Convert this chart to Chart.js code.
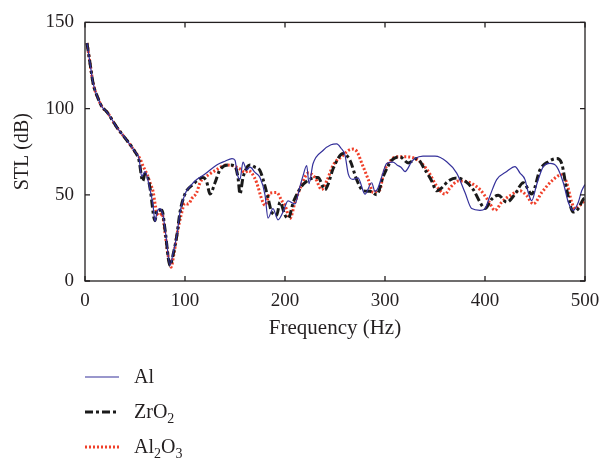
<!DOCTYPE html>
<html>
<head>
<meta charset="utf-8">
<script src="https://cdn.jsdelivr.net/npm/chart.js@4/dist/chart.umd.min.js"></script>
<style>
  html, body { margin: 0; padding: 0; background: #fff; }
  #wrap { width: 613px; height: 462px; }
</style>
</head>
<body>
<div id="wrap"><canvas id="stl"></canvas></div>
<script>
// STL curves (frequency in Hz, STL in dB)
const alFreq = [2, 5, 8, 13, 17, 22, 32, 42, 50, 54, 56.7, 60, 65, 68, 70, 72, 75, 78, 81, 85, 88, 92, 95, 100, 106, 112, 120, 131.7, 140, 147, 150, 152.3, 155, 158, 161.7, 165, 170, 175, 180, 183, 188, 193, 198, 203, 210, 215, 218, 221.7, 224, 228, 238, 246, 251.7, 256, 260, 263.3, 268, 273, 280, 286.7, 290, 293, 297, 301.7, 308, 312, 316, 320, 326.7, 330, 338, 350, 361.7, 371.7, 380, 386.7, 395, 400, 405, 411.7, 421.7, 430, 435, 440, 443.3, 446.7, 451.7, 458.3, 465, 471.7, 478.3, 483.3, 488.3, 493.3, 496.7, 500];
const alSTL = [138, 126.5, 115, 106, 101, 98, 89, 81.5, 75, 71, 60.7, 63.5, 53, 44, 34.5, 40, 42, 38, 26, 9, 16, 27, 40, 50.5, 55.5, 59, 62, 67.3, 69.5, 71, 70, 62, 59, 69, 64.5, 66, 63, 60, 50, 36.5, 42, 35.5, 40, 46.5, 44.7, 55, 61, 67, 56.5, 68, 75.7, 79, 79.5, 77, 73, 62, 59, 59.8, 50.4, 57, 52, 54, 61, 68.2, 69, 67.3, 66, 63.5, 69.2, 71, 72.4, 72.4, 69.2, 62.6, 51.3, 42, 41, 42, 49.5, 58.8, 63.5, 66.4, 62.6, 58.8, 51.3, 46.6, 56, 66.4, 68.2, 66.4, 57, 45.7, 41, 45.7, 52.3, 56];

const zrFreq = [2, 5, 8, 13, 17, 22, 32, 42, 50, 54, 57.7, 60, 62, 65, 70, 72, 77, 80, 85, 88, 92, 95, 100, 108, 118, 121.7, 125, 130, 135, 145, 150, 153, 155, 158, 165, 170, 175, 180, 183.3, 186.7, 191.7, 195, 200, 203.3, 208.3, 216.7, 222, 228.3, 233, 240, 243, 248.3, 258.3, 265, 271.7, 278.3, 285, 291.7, 298.3, 306.7, 315, 323.3, 331.7, 340, 346.7, 351.7, 356.7, 363.3, 371.7, 380, 388.3, 395, 400, 406.7, 413.3, 421.7, 430, 438.3, 446.7, 455, 463.3, 471.7, 476.7, 481.7, 488.3, 493.3, 498.3, 500];
const zrSTL = [138, 126.5, 115, 106, 101, 98, 89, 81.5, 75, 70, 58, 62, 61.5, 54, 35, 41, 41, 30, 9, 15, 27, 40, 50.5, 56, 60, 57.5, 50.4, 57, 64.5, 67.3, 66.5, 60, 50.4, 60, 67.3, 66, 64, 55, 47.5, 40, 38.2, 45.7, 38.2, 36.3, 45.7, 55, 58, 59.8, 60, 53, 56, 65.4, 73.9, 70, 58.8, 52.3, 52, 50, 60.7, 70, 72, 68.5, 71, 64.5, 58, 52.3, 54, 58, 59.8, 58, 53, 45.7, 42, 47.5, 49.8, 45.7, 50.4, 57, 50.4, 64.5, 69.2, 71, 68.2, 53, 40, 42, 47.5, 48];

const aoFreq = [2, 5, 8, 13, 17, 22, 32, 42, 50, 55, 58.3, 62, 65, 68.3, 70, 71.7, 74, 77, 80, 83, 86, 89, 92, 96, 100, 103.3, 107, 111.7, 115, 120, 130, 141.7, 150, 155, 160, 163, 166.7, 171.7, 176.7, 180, 185, 191.7, 196.7, 200, 205, 210, 216.7, 223.3, 230, 236.7, 241.7, 248.3, 258.3, 263.3, 268.3, 272, 277, 283.3, 288.3, 291.7, 295, 298.3, 303.3, 311.7, 321.7, 333.3, 343.3, 351.7, 360, 365, 373.3, 385, 395, 403.3, 410, 416.7, 425, 435, 441.7, 448.3, 456.7, 466.7, 476.7, 481.7, 486.7, 490, 495, 500];
const aoSTL = [138, 126.5, 115, 106, 101, 98, 89, 81.5, 75, 71, 66.4, 62, 57, 51.3, 45, 40, 38, 39, 28, 15, 8, 16, 27, 38, 45, 44.7, 48, 51.3, 57, 60, 64, 67.3, 66.5, 65, 63, 64, 62.6, 57, 47.5, 43.9, 51, 51.3, 46.6, 43.9, 36.3, 45.7, 56, 62.6, 60, 53, 58, 67.3, 73, 75.7, 76.5, 75, 68, 58.8, 51.3, 52, 53, 62, 68.2, 72, 72, 70, 63.5, 55, 50.4, 54, 58, 57, 53, 46.6, 41, 45.7, 49.5, 52.3, 49.5, 44.7, 51.3, 58, 61.7, 57, 45.7, 41.9, 43.9, 47];

const seriesNames = ['Al', 'ZrO2', 'Al2O3'];
const xTicks = [0, 100, 200, 300, 400, 500];
const yTicks = [0, 50, 100, 150];

const textColor = '#231f20';
const serif = '"Liberation Serif", "DejaVu Serif", serif';

function pts(xs, ys) {
    return xs.map((x, i) => ({ x: x, y: ys[i] }));
}

// box frame with inward ticks on all four sides
const framePlugin = {
    id: 'frame',
    afterDraw(chart) {
        const { ctx, chartArea: a, scales: { x, y } } = chart;
        const len = 5;
        ctx.save();
        ctx.strokeStyle = '#231f20';
        ctx.lineWidth = 1.3;
        ctx.strokeRect(a.left, a.top, a.right - a.left, a.bottom - a.top);
        ctx.beginPath();
        xTicks.forEach(v => {
            const px = x.getPixelForValue(v);
            ctx.moveTo(px, a.bottom); ctx.lineTo(px, a.bottom - len);
            ctx.moveTo(px, a.top); ctx.lineTo(px, a.top + len);
        });
        yTicks.forEach(v => {
            const py = y.getPixelForValue(v);
            ctx.moveTo(a.left, py); ctx.lineTo(a.left + len, py);
            ctx.moveTo(a.right, py); ctx.lineTo(a.right - len, py);
        });
        ctx.stroke();
        ctx.restore();
    }
};

// legend below the plot, digits drawn as subscripts
const legendPlugin = {
    id: 'subLegend',
    afterDraw(chart) {
        const ctx = chart.ctx;
        const x0 = 85, x1 = 119, tx = 134;
        const rows = [377, 412, 447];
        ctx.save();
        chart.data.datasets.forEach((ds, i) => {
            const yy = rows[i];
            ctx.beginPath();
            ctx.strokeStyle = ds.borderColor;
            ctx.lineWidth = ds.borderWidth;
            ctx.setLineDash(ds.borderDash || []);
            ctx.moveTo(x0, yy);
            ctx.lineTo(x1, yy);
            ctx.stroke();
            ctx.setLineDash([]);

            let cx = tx;
            ctx.fillStyle = textColor;
            ctx.textBaseline = 'alphabetic';
            for (const ch of ds.label) {
                const sub = /[0-9]/.test(ch);
                ctx.font = (sub ? 14 : 20) + 'px ' + serif;
                ctx.fillText(ch, cx, yy + 6 + (sub ? 5 : 0));
                cx += ctx.measureText(ch).width;
            }
        });
        ctx.restore();
    }
};

const ctx = document.getElementById('stl').getContext('2d');

new Chart(ctx, {
    type: 'line',
    data: {
        datasets: [{
            label: seriesNames[0],
            data: pts(alFreq, alSTL),
            borderColor: '#34309a',
            borderWidth: 1.2,
            pointRadius: 0,
            cubicInterpolationMode: 'monotone'
        }, {
            label: seriesNames[1],
            data: pts(zrFreq, zrSTL),
            borderColor: '#1a1a1a',
            borderWidth: 3,
            borderDash: [8, 3, 3, 3],
            pointRadius: 0,
            cubicInterpolationMode: 'monotone'
        }, {
            label: seriesNames[2],
            data: pts(aoFreq, aoSTL),
            borderColor: '#f0402a',
            borderWidth: 3,
            borderDash: [2, 2],
            pointRadius: 0,
            cubicInterpolationMode: 'monotone'
        }]
    },
    options: {
        responsive: true,
        maintainAspectRatio: false,
        animation: false,
        events: [],
        layout: {
            padding: { left: 0, right: 28, top: 15, bottom: 115 }
        },
        plugins: {
            legend: { display: false },
            tooltip: { enabled: false }
        },
        scales: {
            x: {
                type: 'linear',
                min: 0,
                max: 500,
                afterFit: s => { s.height = 66; },
                afterBuildTicks: s => { s.ticks = xTicks.map(v => ({ value: v })); },
                grid: { display: false, drawTicks: false },
                border: { display: false },
                ticks: {
                    padding: 9,
                    color: textColor,
                    font: { family: serif, size: 19 }
                },
                title: {
                    display: true,
                    text: 'Frequency (Hz)',
                    color: textColor,
                    padding: { top: 0, bottom: 6 },
                    font: { family: serif, size: 21 }
                }
            },
            y: {
                min: 0,
                max: 150,
                afterFit: s => { s.width = 85; },
                afterBuildTicks: s => { s.ticks = yTicks.map(v => ({ value: v })); },
                grid: { display: false, drawTicks: false },
                border: { display: false },
                ticks: {
                    padding: 11,
                    color: textColor,
                    font: { family: serif, size: 19 }
                },
                title: {
                    display: true,
                    text: 'STL (dB)',
                    color: textColor,
                    padding: { top: 11, bottom: 0 },
                    font: { family: serif, size: 20 }
                }
            }
        }
    },
    plugins: [framePlugin, legendPlugin]
});
</script>
</body>
</html>
